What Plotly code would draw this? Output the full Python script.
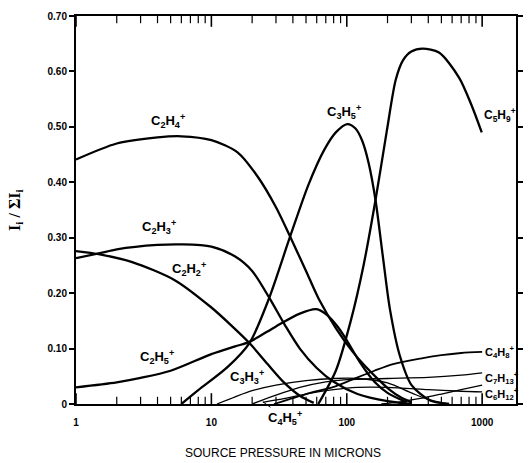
import math
import plotly.graph_objects as go

# ---------------- data ----------------
c2h4_x = [1, 2, 4, 6, 10, 15.6, 22, 30, 38, 50, 62, 83, 110, 137, 170, 209, 250, 300]
c2h4_y = [0.441, 0.470, 0.481, 0.483, 0.476, 0.454, 0.410, 0.355, 0.303, 0.240, 0.190, 0.137, 0.095, 0.068, 0.045, 0.025, 0.012, 0.003]

c2h3_x = [1, 1.5, 2, 4, 6, 10, 15, 20, 27, 35, 45, 60, 80, 120, 200, 300]
c2h3_y = [0.263, 0.272, 0.279, 0.287, 0.288, 0.284, 0.266, 0.240, 0.190, 0.142, 0.100, 0.065, 0.040, 0.018, 0.005, 0.0]

c2h2_x = [1, 1.5, 2.6, 5.4, 9.9, 14, 19.1, 26, 34, 45, 57]
c2h2_y = [0.276, 0.270, 0.256, 0.223, 0.175, 0.142, 0.110, 0.072, 0.040, 0.015, 0.002]

c2h5_x = [1, 2, 3, 5, 10, 15, 19.1, 30, 45, 59.5, 72, 86, 100, 126, 160, 200, 277]
c2h5_y = [0.030, 0.039, 0.047, 0.060, 0.090, 0.104, 0.112, 0.140, 0.163, 0.171, 0.160, 0.139, 0.115, 0.074, 0.040, 0.020, 0.003]

c3h5_x = [6, 8, 13.2, 19.1, 26.6, 37.9, 52, 68, 83, 101, 116, 130, 145, 163, 185, 208, 246, 301, 409, 570]
c3h5_y = [0.0, 0.025, 0.067, 0.110, 0.190, 0.300, 0.395, 0.458, 0.490, 0.505, 0.497, 0.475, 0.435, 0.368, 0.265, 0.172, 0.088, 0.034, 0.007, 0.0]

c5h9_x = [61.6, 83, 107, 133, 163, 198, 230, 260, 300, 363, 480, 675, 835, 993]
c5h9_y = [0.0, 0.060, 0.150, 0.250, 0.368, 0.494, 0.585, 0.620, 0.636, 0.641, 0.634, 0.589, 0.539, 0.490]

c3h3_x = [11, 15, 20, 30, 50, 80, 120, 200, 300, 420, 550]
c3h3_y = [0.0, 0.013, 0.024, 0.034, 0.042, 0.046, 0.046, 0.038, 0.020, 0.006, 0.0]

c4h5_x = [24, 35, 50, 80, 120, 200, 400, 700, 1000]
c4h5_y = [0.003, 0.010, 0.018, 0.026, 0.030, 0.030, 0.026, 0.023, 0.022]

c4h8_x = [29, 50, 80, 100, 160, 220, 350, 500, 700, 1000]
c4h8_y = [0.0, 0.018, 0.031, 0.040, 0.060, 0.072, 0.082, 0.088, 0.092, 0.094]

c7h13_x = [20, 30, 45, 70, 100, 200, 400, 700, 1000]
c7h13_y = [0.0, 0.016, 0.030, 0.040, 0.044, 0.046, 0.048, 0.052, 0.056]

c6h12_x = [180, 250, 350, 500, 700, 1000]
c6h12_y = [0.0, 0.004, 0.010, 0.018, 0.026, 0.034]

y_ticks = [0, 0.1, 0.2, 0.3, 0.4, 0.5, 0.6, 0.7]
y_tick_text = ["0", "0.10", "0.20", "0.30", "0.40", "0.50", "0.60", "0.70"]
x_major = [1, 10, 100, 1000]
x_major_text = ["1", "10", "100", "1000"]
x_minor = [m * d for d in (1, 10, 100) for m in range(2, 10)]

# label positions (data coordinates)
labels = [
    ("C<sub>2</sub>H<sub>4</sub><sup>+</sup>", 4.8, 0.510, "center", 13),
    ("C<sub>2</sub>H<sub>3</sub><sup>+</sup>", 4.1, 0.320, "center", 13),
    ("C<sub>2</sub>H<sub>2</sub><sup>+</sup>", 6.8, 0.243, "center", 13),
    ("C<sub>2</sub>H<sub>5</sub><sup>+</sup>", 3.95, 0.085, "center", 13),
    ("C<sub>3</sub>H<sub>3</sub><sup>+</sup>", 18.4, 0.048, "center", 13),
    ("C<sub>3</sub>H<sub>5</sub><sup>+</sup>", 95, 0.526, "center", 13),
    ("C<sub>5</sub>H<sub>9</sub><sup>+</sup>", 1000, 0.522, "left", 12),
    ("C<sub>4</sub>H<sub>8</sub><sup>+</sup>", 1010, 0.093, "left", 11),
    ("C<sub>7</sub>H<sub>13</sub><sup>+</sup>", 1010, 0.047, "left", 11),
    ("C<sub>6</sub>H<sub>12</sub><sup>+</sup>", 1010, 0.018, "left", 11),
]

thick = [(c2h4_x, c2h4_y), (c2h3_x, c2h3_y), (c2h2_x, c2h2_y), (c2h5_x, c2h5_y),
         (c3h5_x, c3h5_y), (c5h9_x, c5h9_y)]
thin = [(c3h3_x, c3h3_y), (c4h5_x, c4h5_y), (c4h8_x, c4h8_y), (c7h13_x, c7h13_y),
        (c6h12_x, c6h12_y)]

fig = go.Figure()
for xs, ys in thick:
    fig.add_trace(go.Scatter(x=xs, y=ys, mode="lines",
                             line=dict(color="black", width=2.3, shape="spline", smoothing=0.8),
                             showlegend=False, hoverinfo="skip"))
for xs, ys in thin:
    w = 1.8 if xs is c4h8_x else 1.3
    fig.add_trace(go.Scatter(x=xs, y=ys, mode="lines",
                             line=dict(color="black", width=w, shape="spline", smoothing=0.8),
                             showlegend=False, hoverinfo="skip"))

# inward x-axis tick marks on bottom and top edges, drawn as short vertical
# line markers on a hidden [0, 1] overlay axis (edge = 0 or 1, nudged inward by half a mark)
plot_h = 463 - 16 - 59
for vals, size, lw in ((x_major, 9, 1.6), (x_minor, 6, 1.2)):
    nudge = (size / 2) / plot_h
    for edge in (0 + nudge, 1 - nudge):
        fig.add_trace(go.Scatter(x=vals, y=[edge] * len(vals), yaxis="y2", mode="markers",
                                 marker=dict(symbol="line-ns", size=size,
                                             line=dict(width=lw, color="black")),
                                 cliponaxis=False, showlegend=False, hoverinfo="skip"))

lab_family = "Liberation Sans"
for text, x, y, anchor, size in labels:
    fig.add_annotation(x=math.log10(x), y=y, xref="x", yref="y", text=text,
                       showarrow=False, xanchor=anchor, yanchor="middle",
                       font=dict(family=lab_family, size=size, color="black", weight="bold"))

# C4H5+ label with leader line
fig.add_annotation(x=math.log10(24), y=0.004, xref="x", yref="y",
                   text="C<sub>4</sub>H<sub>5</sub><sup>+</sup>",
                   showarrow=True, arrowhead=0, arrowwidth=1, arrowcolor="black",
                   ax=22, ay=16,
                   font=dict(family=lab_family, size=13, color="black", weight="bold"))

# axis titles
fig.add_annotation(x=0.47, y=-0.15, xref="paper", yref="paper",
                   text="SOURCE PRESSURE IN MICRONS", showarrow=False,
                   font=dict(family="Liberation Sans", size=12, color="black"))
fig.add_annotation(x=-0.165, y=0.5, xref="paper", yref="paper",
                   text="I<sub>i</sub> / ΣI<sub>i</sub>", textangle=-90, showarrow=False,
                   font=dict(family="Liberation Serif", size=16, color="black", weight="bold"))

tick_font = dict(family="Liberation Sans", size=10, color="black", weight="bold")

fig.update_layout(
    width=529, height=463,
    margin=dict(l=76, r=6, t=16, b=59),
    paper_bgcolor="white", plot_bgcolor="white",
    xaxis=dict(type="log", range=[0, 3.25], showgrid=False, zeroline=False,
               showline=True, linecolor="black", linewidth=2, mirror=True,
               ticks="", tickmode="array", tickvals=x_major, ticktext=x_major_text,
               tickfont=tick_font, ticklabelstandoff=8),
    yaxis=dict(range=[0, 0.7], showgrid=False, zeroline=False,
               showline=True, linecolor="black", linewidth=2, mirror="allticks",
               ticks="outside", ticklen=5, tickwidth=1.5, tickcolor="black",
               tickmode="array", tickvals=y_ticks, ticktext=y_tick_text,
               tickfont=tick_font),
    yaxis2=dict(overlaying="y", range=[0, 1], visible=False, fixedrange=True),
)

fig.write_html("out.html")
